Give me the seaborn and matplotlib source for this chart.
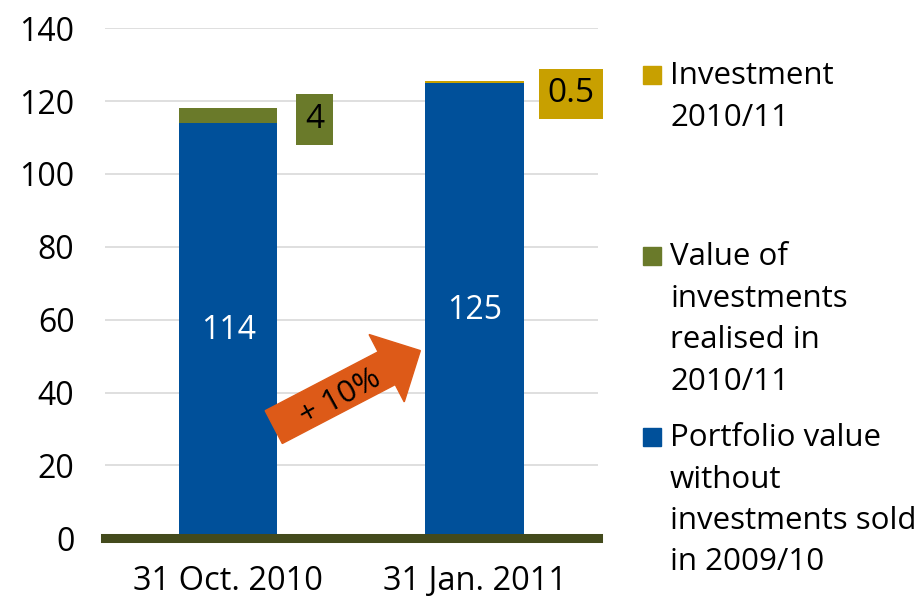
import pandas as pd
import matplotlib.pyplot as plt
import matplotlib.patches as mpatches
import matplotlib.transforms as mtransforms
import seaborn as sns

# データ
dates = ['31 Oct. 2010', '31 Jan. 2011']
portfolio = [114, 125]
realised = [4, 0]
investment = [0, 0.5]
box_labels = ['4', '0.5']
growth_label = '+ 10%'
yticks = [0, 20, 40, 60, 80, 100, 120, 140]
legend_labels = ['Investment\n2010/11',
                 'Value of\ninvestments\nrealised in\n2010/11',
                 'Portfolio value\nwithout\ninvestments sold\nin 2009/10']

blue = '#00509A'
green = '#6A7A2A'
gold = '#C8A000'
orange = '#DD5A18'
olive_dark = '#434A1C'

sns.set_theme(style='white')
plt.rcParams['font.family'] = ['Open Sans', 'DejaVu Sans']

df = pd.DataFrame({'date': dates, 'portfolio': portfolio,
                   'realised': realised, 'investment': investment})
df['top2'] = df['portfolio'] + df['realised']
df['top3'] = df['top2'] + df['investment']

W, H = 921, 602
fig = plt.figure(figsize=(W / 100, H / 100), dpi=100)
ax = fig.add_axes([0.114, 0.106, 0.535, 0.847])

# 積み上げ（上から順に重ねる）
for col, c in [('top3', gold), ('top2', green), ('portfolio', blue)]:
    sns.barplot(data=df, x='date', y=col, color=c, width=0.4, ax=ax,
                saturation=1, linewidth=0)

ax.set_xlim(-0.5, 1.5)
ax.set_ylim(0, 140)
ax.set_yticks(yticks)
ax.set_xlabel('')
ax.set_ylabel('')
ax.grid(axis='y', color='#D9D9D9', linewidth=1.2)
ax.set_axisbelow(True)
for s in ['top', 'right', 'left']:
    ax.spines[s].set_visible(False)
ax.spines['bottom'].set_color(olive_dark)
ax.spines['bottom'].set_linewidth(6.5)
ax.tick_params(axis='both', length=0, colors='black')
ax.tick_params(axis='y', pad=22, labelsize=23)
ax.tick_params(axis='x', pad=19, labelsize=23.5)

# 棒内の値
for i, v in enumerate(portfolio):
    ax.text(i, v / 2, f'{v}', ha='center', va='center', color='white', fontsize=23)

# ラベルボックス
ax.text(0.35, 115, box_labels[0], ha='center', va='center', fontsize=24, color='black',
        bbox=dict(boxstyle='square,pad=0.26', fc=green, ec='none'))
ax.text(1.39, 122, box_labels[1], ha='center', va='center', fontsize=24, color='black',
        bbox=dict(boxstyle='square,pad=0.25', fc=gold, ec='none'))

# 成長率の矢印（データ座標で始点と終点を指定）
fig.canvas.draw()
(x0, y0), (x1, y1) = ax.transData.transform([(0.185, 30.5), (0.78, 51.5)])
arrow = mpatches.FancyArrow(x0, y0, x1 - x0, y1 - y0, width=37, head_width=76,
                            head_length=38, length_includes_head=True,
                            color=orange, transform=mtransforms.IdentityTransform(),
                            zorder=5, clip_on=False)
ax.add_patch(arrow)
ax.text(0.455, 38.5, growth_label, ha='center', va='center', fontsize=22.5, color='black',
        rotation=29, rotation_mode='anchor', zorder=6)

# 凡例（手動配置、y はピクセル）
leg_items = [(gold, legend_labels[0], 75), (green, legend_labels[1], 256),
             (blue, legend_labels[2], 437)]
for c, lab, yc in leg_items:
    fig.patches.append(mpatches.Rectangle((643 / W, 1 - (yc + 9) / H), 18 / W, 18 / H,
                                          color=c, transform=fig.transFigure, figure=fig))
    fig.text(670 / W, 1 - (yc - 14) / H, lab, ha='left', va='top', fontsize=22.5,
             linespacing=1.5, color='black')

plt.savefig('out.png', dpi=100)
plt.close()
